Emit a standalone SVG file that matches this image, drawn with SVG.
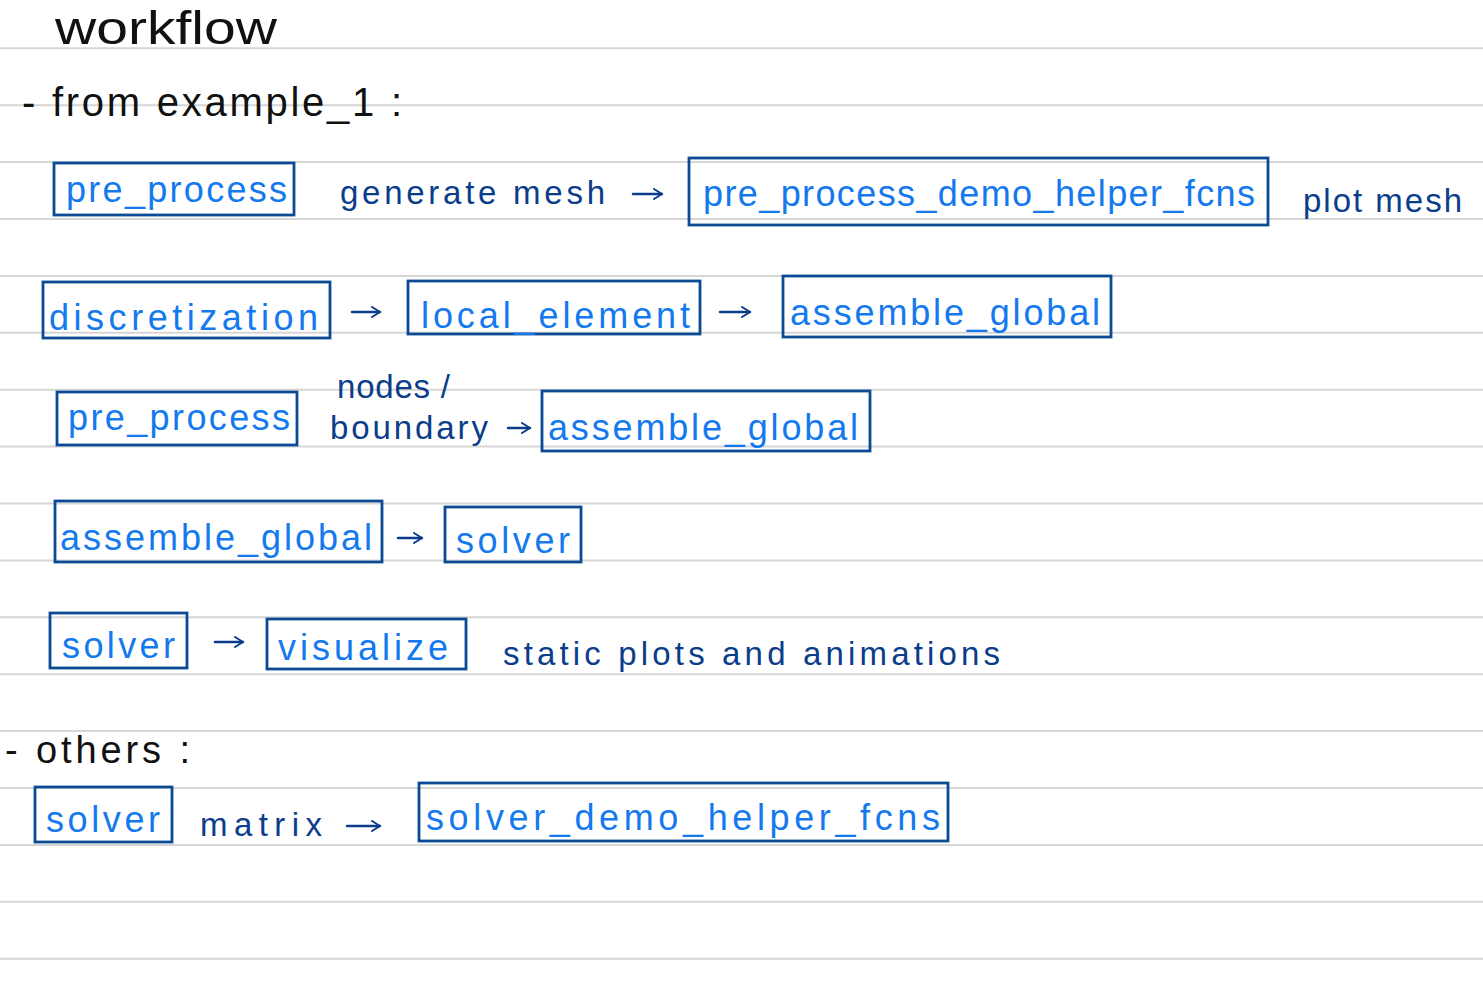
<svg xmlns="http://www.w3.org/2000/svg" width="1483" height="1000" viewBox="0 0 1483 1000">
<defs>
<style>
.rule{stroke:#d6d6d6;stroke-width:2}
.box{fill:none;stroke:#0b4a95;stroke-width:2.8}
.bt{font-family:"Liberation Sans","DejaVu Sans",sans-serif;font-size:36px;fill:#1479ee}
.an{font-family:"Liberation Sans","DejaVu Sans",sans-serif;font-size:33px;fill:#0b3d8a}
.hd{font-family:"Liberation Sans","DejaVu Sans",sans-serif;fill:#111}
.cn{fill:none;stroke:#0b3d8a;stroke-width:2.5;stroke-linecap:round}
</style>
<marker id="ah" viewBox="0 0 12 12" refX="10" refY="6" markerWidth="12" markerHeight="12" markerUnits="userSpaceOnUse" orient="auto">
<path d="M2,1 L10,6 L2,11" fill="none" stroke="#0b3d8a" stroke-width="2" stroke-linecap="round" stroke-linejoin="round"/>
</marker>
</defs>
<rect width="1483" height="1000" fill="#fff"/>
<g id="ruled-lines">
<line class="rule" x1="0" y1="48.3" x2="1483" y2="48.3"/>
<line class="rule" x1="0" y1="105.2" x2="1483" y2="105.2"/>
<line class="rule" x1="0" y1="162.1" x2="1483" y2="162.1"/>
<line class="rule" x1="0" y1="219" x2="1483" y2="219"/>
<line class="rule" x1="0" y1="275.9" x2="1483" y2="275.9"/>
<line class="rule" x1="0" y1="332.8" x2="1483" y2="332.8"/>
<line class="rule" x1="0" y1="389.7" x2="1483" y2="389.7"/>
<line class="rule" x1="0" y1="446.6" x2="1483" y2="446.6"/>
<line class="rule" x1="0" y1="503.5" x2="1483" y2="503.5"/>
<line class="rule" x1="0" y1="560.4" x2="1483" y2="560.4"/>
<line class="rule" x1="0" y1="617.3" x2="1483" y2="617.3"/>
<line class="rule" x1="0" y1="674.2" x2="1483" y2="674.2"/>
<line class="rule" x1="0" y1="731.1" x2="1483" y2="731.1"/>
<line class="rule" x1="0" y1="788" x2="1483" y2="788"/>
<line class="rule" x1="0" y1="844.9" x2="1483" y2="844.9"/>
<line class="rule" x1="0" y1="901.8" x2="1483" y2="901.8"/>
<line class="rule" x1="0" y1="958.7" x2="1483" y2="958.7"/>
</g>
<g id="headings">
<text class="hd" x="55" y="44" font-size="46" textLength="222" lengthAdjust="spacingAndGlyphs">workflow</text>
<text class="hd" x="22" y="116" font-size="40" textLength="380" lengthAdjust="spacing">- from example_1 :</text>
<text class="hd" x="5" y="763" font-size="38" textLength="185" lengthAdjust="spacing">- others :</text>
</g>
<g id="connectors">
<line class="cn" x1="633" y1="194" x2="662" y2="194" marker-end="url(#ah)"/>
<line class="cn" x1="352" y1="312" x2="380" y2="312" marker-end="url(#ah)"/>
<line class="cn" x1="720" y1="312" x2="750" y2="312" marker-end="url(#ah)"/>
<line class="cn" x1="508" y1="428" x2="530" y2="428" marker-end="url(#ah)"/>
<line class="cn" x1="398" y1="538" x2="422" y2="538" marker-end="url(#ah)"/>
<line class="cn" x1="215" y1="642" x2="243" y2="642" marker-end="url(#ah)"/>
<line class="cn" x1="347" y1="826" x2="380" y2="826" marker-end="url(#ah)"/>
</g>
<g id="labels">
<text class="an" x="340" y="204" textLength="265" lengthAdjust="spacing">generate mesh</text>
<text class="an" x="1303" y="212" textLength="159" lengthAdjust="spacing">plot mesh</text>
<text class="an" x="337" y="398" textLength="113" lengthAdjust="spacing">nodes /</text>
<text class="an" x="330" y="439" textLength="158" lengthAdjust="spacing">boundary</text>
<text class="an" x="503" y="665" textLength="497" lengthAdjust="spacing">static plots and animations</text>
<text class="an" x="200" y="836" textLength="122" lengthAdjust="spacing">matrix</text>
</g>
<g id="node-pre_process-1"><rect class="box" x="54" y="163" width="240" height="52"/><text class="bt" x="66" y="202" textLength="221" lengthAdjust="spacing">pre_process</text></g>
<g id="node-pre_process_demo_helper_fcns"><rect class="box" x="689" y="158" width="579" height="67"/><text class="bt" x="703" y="206" textLength="552" lengthAdjust="spacing">pre_process_demo_helper_fcns</text></g>
<g id="node-discretization"><rect class="box" x="43" y="282" width="287" height="56"/><text class="bt" x="49" y="330" textLength="269" lengthAdjust="spacing">discretization</text></g>
<g id="node-local_element"><rect class="box" x="408" y="281" width="292" height="53"/><text class="bt" x="421" y="328" textLength="269" lengthAdjust="spacing">local_element</text></g>
<g id="node-assemble_global-1"><rect class="box" x="783" y="276" width="328" height="61"/><text class="bt" x="790" y="325" textLength="310" lengthAdjust="spacing">assemble_global</text></g>
<g id="node-pre_process-2"><rect class="box" x="57" y="392" width="240" height="53"/><text class="bt" x="68" y="430" textLength="222" lengthAdjust="spacing">pre_process</text></g>
<g id="node-assemble_global-2"><rect class="box" x="542" y="391" width="328" height="60"/><text class="bt" x="548" y="440" textLength="310" lengthAdjust="spacing">assemble_global</text></g>
<g id="node-assemble_global-3"><rect class="box" x="55" y="501" width="327" height="61"/><text class="bt" x="60" y="550" textLength="312" lengthAdjust="spacing">assemble_global</text></g>
<g id="node-solver-1"><rect class="box" x="445" y="507" width="136" height="55"/><text class="bt" x="456" y="553" textLength="114" lengthAdjust="spacing">solver</text></g>
<g id="node-solver-2"><rect class="box" x="50" y="613" width="137" height="55"/><text class="bt" x="62" y="658" textLength="113" lengthAdjust="spacing">solver</text></g>
<g id="node-visualize"><rect class="box" x="267" y="619" width="199" height="50"/><text class="bt" x="278" y="660" textLength="170" lengthAdjust="spacing">visualize</text></g>
<g id="node-solver-3"><rect class="box" x="35" y="787" width="137" height="55"/><text class="bt" x="46" y="832" textLength="114" lengthAdjust="spacing">solver</text></g>
<g id="node-solver_demo_helper_fcns"><rect class="box" x="419" y="783" width="529" height="58"/><text class="bt" x="426" y="830" textLength="514" lengthAdjust="spacing">solver_demo_helper_fcns</text></g>
</svg>
